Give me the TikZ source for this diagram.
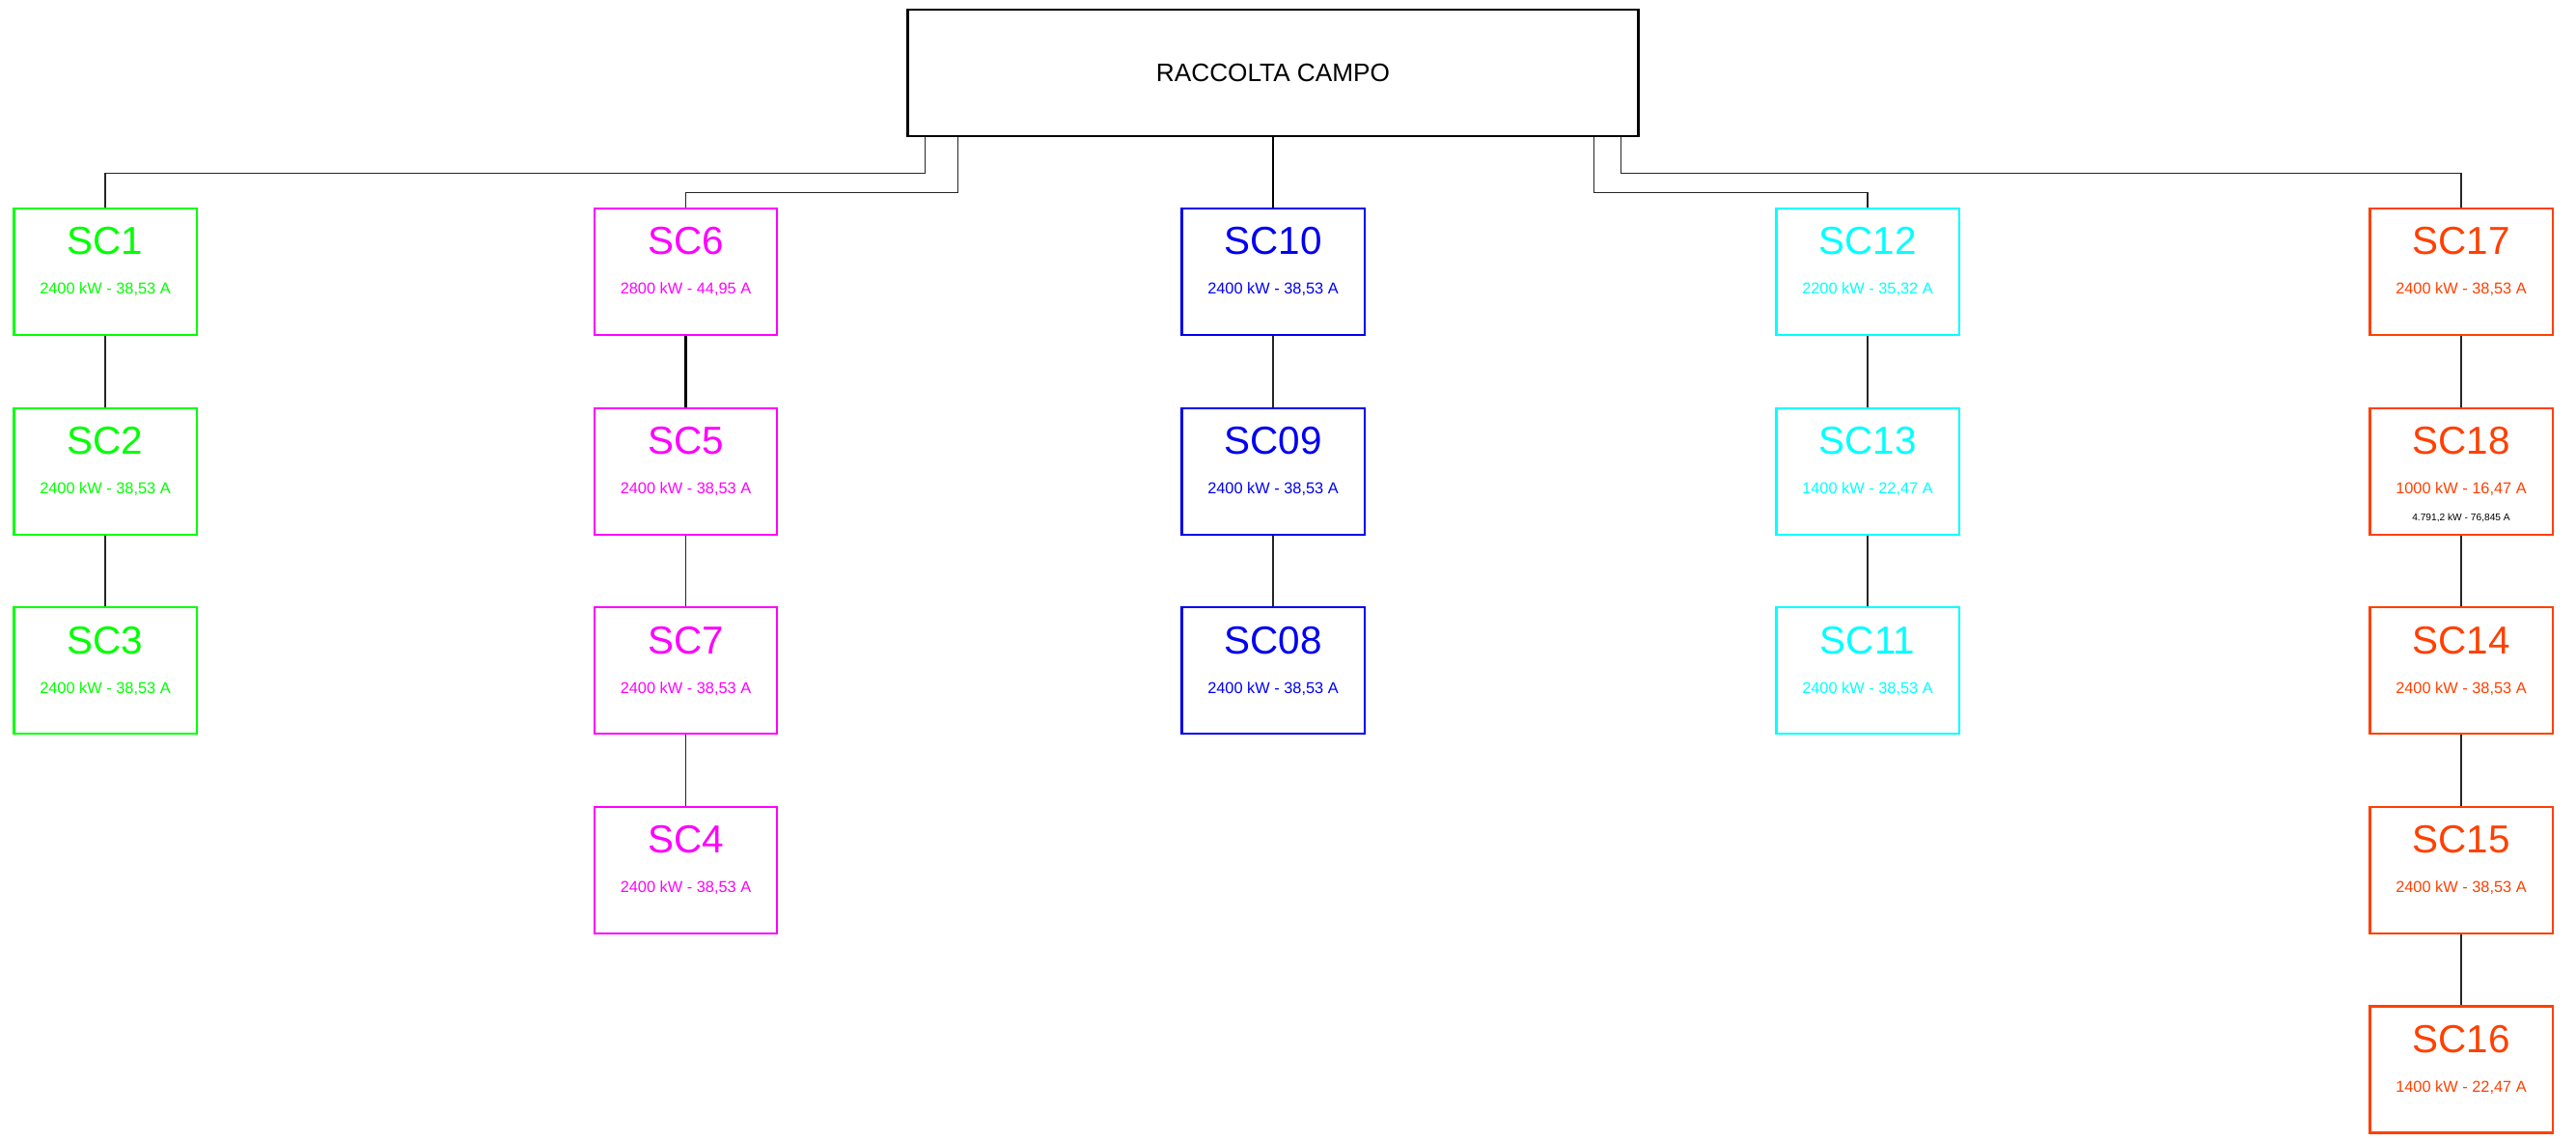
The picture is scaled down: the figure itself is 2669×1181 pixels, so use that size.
\documentclass[tikz,border=0pt]{standalone}
\usepackage{fontspec}
\setmainfont{Liberation Sans}
\usetikzlibrary{positioning}

\definecolor{scgreen}{RGB}{0,255,0}
\definecolor{scmagenta}{RGB}{255,0,255}
\definecolor{scblue}{RGB}{0,0,240}
\definecolor{sccyan}{RGB}{0,255,255}
\definecolor{scorange}{RGB}{255,64,0}

\begin{document}
\begin{tikzpicture}[x=0.01cm,y=-0.01cm,node distance=2.065cm,
	sc/.style={rectangle,draw=#1,line width=0.6pt,minimum width=1.89cm,minimum height=1.31cm,inner sep=0pt},
	ttl/.style={text=#1,inner sep=0pt,font=\fontsize{11.5}{12}\selectfont},
	sub/.style={text=#1,inner sep=0pt,font=\fontsize{4.65}{5}\selectfont},
	wire/.style={draw=black!85,line width=0.35pt},
	bigwire/.style={draw=black,line width=0.6pt}]
	\useasboundingbox (0,0) rectangle (2669,1181);

	\node[rectangle,draw,line width=0.75pt,minimum width=7.56cm,minimum height=1.31cm,font=\fontsize{7.45}{8}\selectfont] (campo) at (1319,75.5) {RACCOLTA CAMPO};

	% SC1 - SC3
	\node[sc=scgreen] (sc1) at (109,281.5) {};
		\node[ttl=scgreen] (sc1t) at ([yshift=-0.35cm]sc1.north) {SC1};
		\node[sub=scgreen] (sc1k) at ([yshift=-0.85cm]sc1.north) {2400 kW - 38,53 A};
	\node[sc=scgreen,below of=sc1] (sc2) {};
		\node[ttl=scgreen] (sc2t) at ([yshift=-0.35cm]sc2.north) {SC2};
		\node[sub=scgreen] (sc2k) at ([yshift=-0.85cm]sc2.north) {2400 kW - 38,53 A};
	\node[sc=scgreen,below of=sc2] (sc3) {};
		\node[ttl=scgreen] (sc3t) at ([yshift=-0.35cm]sc3.north) {SC3};
		\node[sub=scgreen] (sc3k) at ([yshift=-0.85cm]sc3.north) {2400 kW - 38,53 A};

	% SC6, SC5, SC7, SC4
	\node[sc=scmagenta] (sc6) at (710.5,281.5) {};
		\node[ttl=scmagenta] (sc6t) at ([yshift=-0.35cm]sc6.north) {SC6};
		\node[sub=scmagenta] (sc6k) at ([yshift=-0.85cm]sc6.north) {2800 kW - 44,95 A};
	\node[sc=scmagenta,below of=sc6] (sc5) {};
		\node[ttl=scmagenta] (sc5t) at ([yshift=-0.35cm]sc5.north) {SC5};
		\node[sub=scmagenta] (sc5k) at ([yshift=-0.85cm]sc5.north) {2400 kW - 38,53 A};
	\node[sc=scmagenta,below of=sc5] (sc7) {};
		\node[ttl=scmagenta] (sc7t) at ([yshift=-0.35cm]sc7.north) {SC7};
		\node[sub=scmagenta] (sc7k) at ([yshift=-0.85cm]sc7.north) {2400 kW - 38,53 A};
	\node[sc=scmagenta,below of=sc7] (sc4) {};
		\node[ttl=scmagenta] (sc4t) at ([yshift=-0.35cm]sc4.north) {SC4};
		\node[sub=scmagenta] (sc4k) at ([yshift=-0.85cm]sc4.north) {2400 kW - 38,53 A};

	% SC10, SC09, SC08
	\node[sc=scblue] (sc10) at (1319,281.5) {};
		\node[ttl=scblue] (sc10t) at ([yshift=-0.35cm]sc10.north) {SC10};
		\node[sub=scblue] (sc10k) at ([yshift=-0.85cm]sc10.north) {2400 kW - 38,53 A};
	\node[sc=scblue,below of=sc10] (sc09) {};
		\node[ttl=scblue] (sc09t) at ([yshift=-0.35cm]sc09.north) {SC09};
		\node[sub=scblue] (sc09k) at ([yshift=-0.85cm]sc09.north) {2400 kW - 38,53 A};
	\node[sc=scblue,below of=sc09] (sc08) {};
		\node[ttl=scblue] (sc08t) at ([yshift=-0.35cm]sc08.north) {SC08};
		\node[sub=scblue] (sc08k) at ([yshift=-0.85cm]sc08.north) {2400 kW - 38,53 A};

	% SC12, SC13, SC11
	\node[sc=sccyan] (sc12) at (1935,281.5) {};
		\node[ttl=sccyan] (sc12t) at ([yshift=-0.35cm]sc12.north) {SC12};
		\node[sub=sccyan] (sc12k) at ([yshift=-0.85cm]sc12.north) {2200 kW - 35,32 A};
	\node[sc=sccyan,below of=sc12] (sc13) {};
		\node[ttl=sccyan] (sc13t) at ([yshift=-0.35cm]sc13.north) {SC13};
		\node[sub=sccyan] (sc13k) at ([yshift=-0.85cm]sc13.north) {1400 kW - 22,47 A};
	\node[sc=sccyan,below of=sc13] (sc11) {};
		\node[ttl=sccyan] (sc11t) at ([yshift=-0.35cm]sc11.north) {SC11};
		\node[sub=sccyan] (sc11k) at ([yshift=-0.85cm]sc11.north) {2400 kW - 38,53 A};

	% SC17, SC18, SC14, SC15, SC16
	\node[sc=scorange] (sc17) at (2550,281.5) {};
		\node[ttl=scorange] (sc17t) at ([yshift=-0.35cm]sc17.north) {SC17};
		\node[sub=scorange] (sc17k) at ([yshift=-0.85cm]sc17.north) {2400 kW - 38,53 A};
	\node[sc=scorange,below of=sc17] (sc18) {};
		\node[ttl=scorange] (sc18t) at ([yshift=-0.35cm]sc18.north) {SC18};
		\node[sub=scorange] (sc18k) at ([yshift=-0.85cm]sc18.north) {1000 kW - 16,47 A};
		\node[inner sep=0pt,font=\fontsize{2.9}{3.5}\selectfont] (sc18x) at ([yshift=-1.15cm]sc18.north) {4.791,2 kW - 76,845 A};
	\node[sc=scorange,below of=sc18] (sc14) {};
		\node[ttl=scorange] (sc14t) at ([yshift=-0.35cm]sc14.north) {SC14};
		\node[sub=scorange] (sc14k) at ([yshift=-0.85cm]sc14.north) {2400 kW - 38,53 A};
	\node[sc=scorange,below of=sc14] (sc15) {};
		\node[ttl=scorange] (sc15t) at ([yshift=-0.35cm]sc15.north) {SC15};
		\node[sub=scorange] (sc15k) at ([yshift=-0.85cm]sc15.north) {2400 kW - 38,53 A};
	\node[sc=scorange,below of=sc15] (sc16) {};
		\node[ttl=scorange] (sc16t) at ([yshift=-0.35cm]sc16.north) {SC16};
		\node[sub=scorange] (sc16k) at ([yshift=-0.85cm]sc16.north) {1400 kW - 22,47 A};

	% feeders from the top box
	\draw[wire] ([xshift=-3.6cm]campo.south) -- ++(0,37) -| (sc1.north);
	\draw[wire] ([xshift=-3.26cm]campo.south) -- ++(0,57) -| (sc6.north);
	\draw[bigwire] (campo) -- (sc10);
	\draw[wire] ([xshift=3.32cm]campo.south) -- ++(0,57) -| (sc12.north);
	\draw[wire] ([xshift=3.6cm]campo.south) -- ++(0,37) -| (sc17.north);

	% chains
	\draw[wire] (sc1) -- (sc2);
	\draw[wire] (sc2) -- (sc3);
	\draw[bigwire] (sc6) -- (sc5);
	\draw[wire] (sc5) -- (sc7);
	\draw[wire] (sc7) -- (sc4);
	\draw[wire] (sc10) -- (sc09);
	\draw[wire] (sc09) -- (sc08);
	\draw[wire] (sc12) -- (sc13);
	\draw[wire] (sc13) -- (sc11);
	\draw[wire] (sc17) -- (sc18);
	\draw[wire] (sc18) -- (sc14);
	\draw[wire] (sc14) -- (sc15);
	\draw[wire] (sc15) -- (sc16);
\end{tikzpicture}
\end{document}
